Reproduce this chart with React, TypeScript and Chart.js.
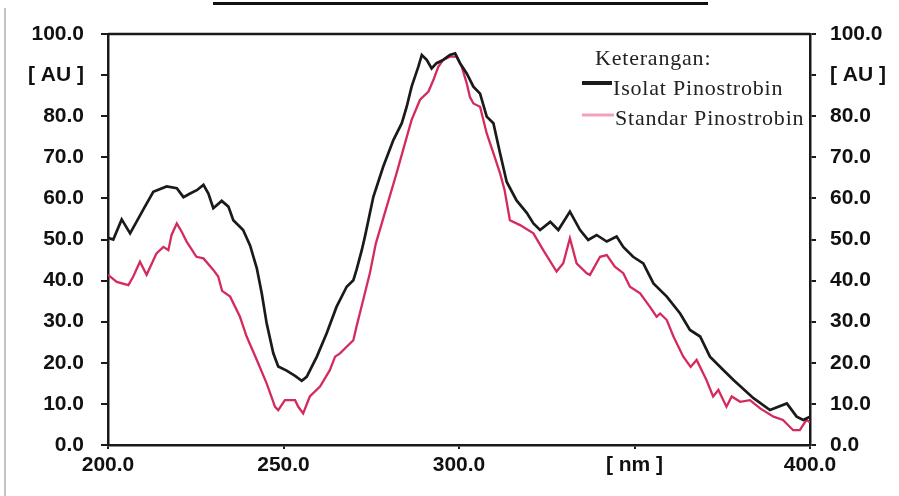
import React, { useEffect, useRef } from "react";
import { Chart, registerables } from "chart.js";

Chart.register(...registerables);

const isolatX = [200.0, 201.5, 203.9, 206.3, 210.0, 212.9, 216.7, 219.6, 221.5, 223.4, 225.3, 227.2, 228.6, 230.0, 232.4, 234.3, 235.7, 238.5, 240.5, 242.4, 243.8, 245.2, 247.1, 248.5, 250.9, 253.3, 255.2, 256.6, 259.5, 262.3, 265.1, 268.0, 269.9, 270.8, 272.3, 273.2, 275.6, 278.4, 281.3, 283.7, 285.1, 286.5, 288.4, 289.4, 290.8, 292.2, 293.6, 295.5, 297.4, 298.9, 300.3, 302.2, 304.1, 306.0, 307.9, 309.8, 311.7, 313.6, 316.4, 319.3, 321.2, 323.1, 326.0, 328.3, 331.6, 334.5, 336.8, 339.2, 342.1, 344.9, 346.8, 349.6, 352.5, 355.4, 359.2, 363.0, 365.8, 368.7, 371.5, 375.0, 378.2, 383.9, 388.6, 393.4, 396.2, 398.1, 400.0];
const isolatY = [50.4, 50.0, 54.9, 51.5, 57.2, 61.6, 62.9, 62.5, 60.3, 61.2, 62.0, 63.3, 61.2, 57.6, 59.4, 58.0, 54.7, 52.3, 48.5, 43.0, 36.9, 29.6, 22.3, 19.1, 18.1, 16.8, 15.6, 16.6, 21.5, 27.2, 33.6, 38.5, 40.1, 42.6, 47.4, 50.7, 60.4, 67.7, 74.2, 78.3, 82.3, 87.2, 92.0, 94.9, 93.7, 91.6, 92.9, 93.7, 94.9, 95.3, 92.9, 90.4, 87.2, 85.5, 79.9, 78.3, 71.0, 64.0, 59.5, 56.5, 53.9, 52.3, 54.3, 52.3, 56.8, 52.3, 49.9, 51.1, 49.5, 50.7, 48.2, 45.8, 44.2, 39.3, 36.1, 32.0, 28.0, 26.4, 21.5, 18.5, 15.8, 11.4, 8.5, 10.1, 6.9, 6.1, 6.9];

const standarX = [200.0, 202.5, 205.8, 207.2, 209.1, 211.0, 213.8, 215.8, 217.2, 218.1, 219.6, 221.0, 222.4, 225.2, 227.2, 230.0, 231.4, 232.5, 234.8, 237.6, 239.5, 242.4, 245.2, 247.6, 248.5, 250.4, 253.3, 254.2, 255.6, 257.5, 260.4, 263.2, 264.7, 266.1, 268.0, 269.9, 270.8, 272.7, 274.6, 276.3, 279.4, 282.2, 284.6, 286.5, 288.9, 291.3, 292.7, 294.1, 295.5, 297.4, 299.3, 300.8, 302.2, 303.1, 304.1, 306.0, 307.9, 309.8, 311.7, 313.0, 314.5, 317.4, 321.2, 324.0, 327.8, 329.7, 331.6, 333.5, 336.4, 337.3, 340.2, 342.1, 344.4, 346.8, 348.7, 351.6, 354.4, 356.3, 357.3, 359.2, 361.1, 363.9, 366.0, 367.7, 370.5, 372.4, 373.9, 376.2, 377.7, 380.1, 382.9, 385.8, 389.6, 392.3, 395.2, 397.1, 399.0, 400.0];
const standarY = [41.4, 39.7, 38.9, 41.0, 44.6, 41.4, 46.6, 48.2, 47.4, 51.1, 53.9, 51.9, 49.5, 45.8, 45.4, 42.6, 41.0, 37.5, 36.1, 31.2, 26.4, 20.7, 15.0, 9.3, 8.5, 10.9, 10.9, 9.3, 7.7, 11.8, 14.2, 18.2, 21.5, 22.3, 23.9, 25.5, 28.8, 35.3, 41.8, 49.0, 58.0, 66.1, 73.4, 79.1, 84.0, 86.0, 88.8, 92.0, 93.7, 94.5, 94.5, 92.0, 88.0, 84.7, 83.1, 82.3, 75.8, 71.0, 66.1, 62.0, 54.7, 53.5, 51.5, 47.4, 42.2, 44.2, 50.3, 44.2, 41.8, 41.4, 45.8, 46.2, 43.4, 41.8, 38.5, 36.9, 33.6, 31.2, 32.0, 30.4, 26.4, 21.5, 19.0, 20.7, 15.8, 11.8, 13.4, 9.3, 11.8, 10.5, 10.9, 8.9, 6.9, 6.1, 3.6, 3.6, 6.1, 5.5];

const xTicks = [200, 250, 300, 350, 400];
const xTickLabels = ["200.0", "250.0", "300.0", "[ nm ]", "400.0"];
const yTicks = [0, 10, 20, 30, 40, 50, 60, 70, 80, 90, 100];
const yTickLabels = ["0.0", "10.0", "20.0", "30.0", "40.0", "50.0", "60.0", "70.0", "80.0", "[ AU ]", "100.0"];

const legendTitle = "Keterangan:";
const seriesNames = ["Isolat Pinostrobin", "Standar Pinostrobin"];

const BLACK = "#1a1a1a";
const PINK = "#d42a5c";
const PINK_LEGEND = "#f2a3ba";

const tickFont = { family: "'Liberation Sans', Arial, sans-serif", weight: "bold" as const, size: 21 };

export default function App() {
  const ref = useRef<HTMLCanvasElement | null>(null);

  useEffect(() => {
    document.body.style.margin = "0";
    const canvas = ref.current;
    if (!canvas) return;

    const frameAndLegend = {
      id: "frameAndLegend",
      afterDraw(chart: any) {
        const { ctx, chartArea } = chart;
        ctx.save();
        // top border
        ctx.strokeStyle = BLACK;
        ctx.lineWidth = 2.5;
        ctx.beginPath();
        ctx.moveTo(chartArea.left, chartArea.top);
        ctx.lineTo(chartArea.right, chartArea.top);
        ctx.stroke();
        // legend
        const r = chartArea.right;
        const t = chartArea.top;
        ctx.fillStyle = "#222";
        ctx.font = "22px 'Liberation Serif', 'Times New Roman', serif";
        (ctx as any).letterSpacing = "0.8px";
        ctx.textBaseline = "alphabetic";
        ctx.fillText(legendTitle, r - 215, t + 31);
        ctx.lineWidth = 4;
        ctx.strokeStyle = BLACK;
        ctx.beginPath();
        ctx.moveTo(r - 228, t + 49);
        ctx.lineTo(r - 198, t + 49);
        ctx.stroke();
        ctx.fillText(seriesNames[0], r - 197, t + 61);
        ctx.lineWidth = 3;
        ctx.strokeStyle = PINK_LEGEND;
        ctx.beginPath();
        ctx.moveTo(r - 228, t + 81);
        ctx.lineTo(r - 196, t + 81);
        ctx.stroke();
        ctx.fillText(seriesNames[1], r - 195, t + 91);
        ctx.restore();
      },
    };

    const chart = new Chart(canvas, {
      type: "line",
      data: {
        datasets: [
          {
            label: seriesNames[0],
            data: isolatX.map((x, i) => ({ x, y: isolatY[i] })),
            borderColor: BLACK,
            borderWidth: 2.7,
            pointRadius: 0,
            tension: 0,
            yAxisID: "y",
          },
          {
            label: seriesNames[1],
            data: standarX.map((x, i) => ({ x, y: standarY[i] })),
            borderColor: PINK,
            borderWidth: 2.3,
            pointRadius: 0,
            tension: 0,
            yAxisID: "y",
          },
        ],
      },
      options: {
        responsive: false,
        animation: false,
        layout: { padding: { top: 34, left: 0, right: 0, bottom: 0 } },
        plugins: { legend: { display: false }, tooltip: { enabled: false }, title: { display: false } },
        scales: {
          x: {
            type: "linear",
            min: 200,
            max: 400,
            afterBuildTicks: (scale: any) => {
              scale.ticks = xTicks.map((v) => ({ value: v }));
            },
            afterFit: (scale: any) => {
              scale.height = 51;
            },
            ticks: {
              font: tickFont,
              color: "#111",
              padding: 4,
              maxRotation: 0,
              autoSkip: false,
              callback: (v: any) => {
                const i = xTicks.indexOf(Number(v));
                return i >= 0 ? xTickLabels[i] : "";
              },
            },
            grid: { display: true, drawOnChartArea: false, tickLength: 4, color: BLACK, lineWidth: 2 },
            border: { display: true, color: BLACK, width: 2.5 },
          },
          y: {
            position: "left",
            min: 0,
            max: 100,
            afterBuildTicks: (scale: any) => {
              scale.ticks = yTicks.map((v) => ({ value: v }));
            },
            afterFit: (scale: any) => {
              scale.width = 108;
            },
            ticks: {
              font: tickFont,
              color: "#111",
              padding: 17,
              autoSkip: false,
              callback: (v: any) => {
                const i = yTicks.indexOf(Number(v));
                return i >= 0 ? yTickLabels[i] : "";
              },
            },
            grid: { display: true, drawOnChartArea: false, tickLength: 7, color: BLACK, lineWidth: 2 },
            border: { display: true, color: BLACK, width: 2.5 },
          },
          y1: {
            position: "right",
            min: 0,
            max: 100,
            afterBuildTicks: (scale: any) => {
              scale.ticks = yTicks.map((v) => ({ value: v }));
            },
            afterFit: (scale: any) => {
              scale.width = 89;
            },
            ticks: {
              font: tickFont,
              color: "#111",
              padding: 14,
              autoSkip: false,
              callback: (v: any) => {
                const i = yTicks.indexOf(Number(v));
                return i >= 0 ? yTickLabels[i] : "";
              },
            },
            grid: { display: true, drawOnChartArea: false, tickLength: 6, color: BLACK, lineWidth: 2 },
            border: { display: true, color: BLACK, width: 2.5 },
          },
        },
      },
      plugins: [frameAndLegend],
    } as any);

    return () => chart.destroy();
  }, []);

  return (
    <div style={{ position: "relative", width: 899, height: 496, background: "#fff", overflow: "hidden" }}>
      <div style={{ position: "absolute", left: 213, top: 2, width: 495, height: 3, background: "#111" }} />
      <div style={{ position: "absolute", left: 4, top: 8, width: 2, height: 488, background: "#c4c4c4" }} />
      <canvas ref={ref} width={899} height={496} style={{ display: "block" }} />
    </div>
  );
}
